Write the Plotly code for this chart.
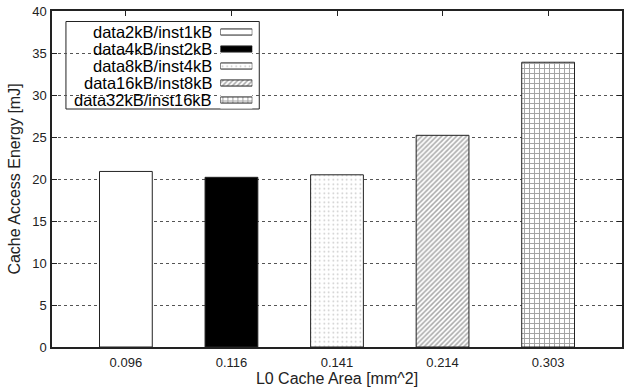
import plotly.graph_objects as go

# Cache configurations and measured energy
configs = ["data2kB/inst1kB", "data4kB/inst2kB", "data8kB/inst4kB",
           "data16kB/inst8kB", "data32kB/inst16kB"]
areas = ["0.096", "0.116", "0.141", "0.214", "0.303"]
energy = [20.9, 20.2, 20.5, 25.2, 33.9]

y_ticks = [0, 5, 10, 15, 20, 25, 30, 35, 40]

# Fill styles for each configuration
styles = [
    dict(color="white", pattern=dict(shape="")),
    dict(color="black", pattern=dict(shape="")),
    dict(color="white", pattern=dict(shape=".", fgcolor="#888", bgcolor="white",
                                     size=4.5, solidity=0.1)),
    dict(color="white", pattern=dict(shape="/", fgcolor="#555", bgcolor="white",
                                     size=3.5, solidity=0.45)),
    dict(color="white", pattern=dict(shape="+", fgcolor="#444", bgcolor="white",
                                     size=5, solidity=0.35)),
]

FONT = "Liberation Sans, Arial, sans-serif"
W, H = 625, 391
L, R, T, B = 52, 1, 11, 44
PW, PH = W - L - R, H - T - B


def px_x(v):
    return (v - L) / PW


def px_y(v):
    return (H - B - v) / PH


fig = go.Figure()

for name, area, val, st in zip(configs, areas, energy, styles):
    fig.add_trace(go.Bar(
        x=[area], y=[val], name=name, width=0.5,
        marker=dict(color=st["color"], pattern=st["pattern"],
                    line=dict(color="#222", width=1)),
        showlegend=False, hoverinfo="x+y",
    ))

# Key samples drawn on a small overlay subplot
for name, st in zip(configs, styles):
    fig.add_trace(go.Bar(
        x=[1], y=[name], orientation="h", width=0.36,
        marker=dict(color=st["color"], pattern=st["pattern"],
                    line=dict(color="#222", width=1)),
        xaxis="x2", yaxis="y2", showlegend=False, hoverinfo="skip",
    ))

annotations = []
for name in configs:
    annotations.append(dict(
        x=px_x(214), xref="paper", y=name, yref="y2", text=name,
        showarrow=False, xanchor="right", yanchor="middle",
        height=16, borderpad=0, valign="middle",
        font=dict(family=FONT, size=16.5, color="black"),
    ))

shapes = [dict(
    type="rect", xref="paper", yref="paper",
    x0=px_x(66), x1=px_x(260), y0=px_y(109), y1=px_y(21.5),
    fillcolor="white", line=dict(color="#222", width=1), layer="between",
)]

fig.update_layout(
    width=W, height=H,
    margin=dict(l=L, r=R, t=T, b=B),
    paper_bgcolor="white", plot_bgcolor="white",
    barmode="overlay",
    font=dict(family=FONT, size=13, color="#222"),
    xaxis=dict(
        type="category", categoryorder="array", categoryarray=areas,
        range=[-0.7, 4.7],
        showline=True, linecolor="#222", linewidth=1.5, mirror="ticks",
        ticks="inside", ticklen=5, tickcolor="#222", ticklabelstandoff=3,
        showgrid=False, layer="below traces",
        tickfont=dict(family=FONT, size=13, color="#222"),
        title=dict(text="L0 Cache Area [mm^2]", standoff=3,
                   font=dict(family=FONT, size=16, color="#222")),
    ),
    yaxis=dict(
        range=[0, 40], tickvals=y_ticks,
        showline=True, linecolor="#222", linewidth=1.5, mirror="ticks",
        ticks="inside", ticklen=5, tickcolor="#222", ticklabelstandoff=1,
        showgrid=True, gridcolor="#555", gridwidth=1, griddash="3px,3px",
        zeroline=False, layer="below traces",
        tickfont=dict(family=FONT, size=13, color="#222"),
        title=dict(text="Cache Access Energy [mJ]", standoff=8,
                   font=dict(family=FONT, size=16, color="#222")),
    ),
    xaxis2=dict(domain=[px_x(221), px_x(253)], range=[0, 1], anchor="y2",
                visible=False, fixedrange=True),
    yaxis2=dict(domain=[px_y(108.5), px_y(23.5)], anchor="x2",
                type="category", categoryorder="array",
                categoryarray=configs[::-1], range=[-0.5, 4.5],
                visible=False, fixedrange=True),
    shapes=shapes,
    annotations=annotations,
)

fig.write_html("out.html")
